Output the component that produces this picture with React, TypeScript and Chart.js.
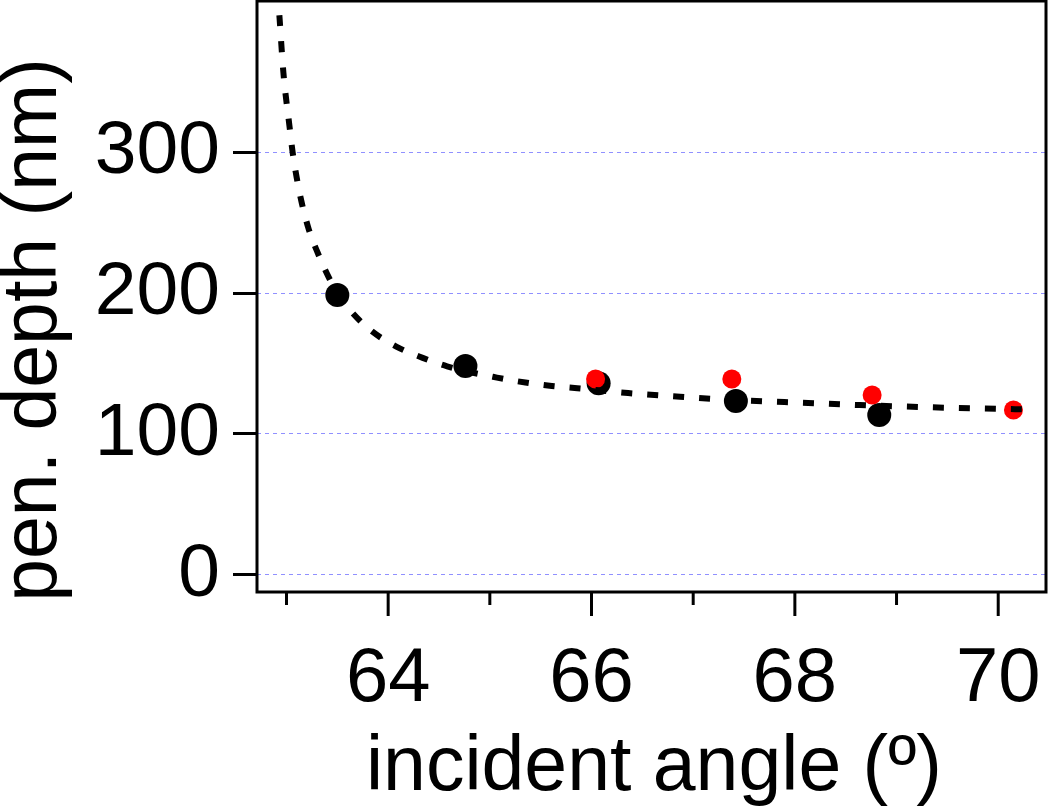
import React, { useEffect, useRef } from "react";
import { Chart, registerables } from "chart.js";

Chart.register(...registerables);

// Fitted curve
const CURVE_X = [62.93, 62.97, 63.03, 63.06, 63.1, 63.15, 63.22, 63.31, 63.41, 63.5, 63.6, 63.82, 64.08, 64.34, 64.58, 65.07, 65.35, 65.61, 65.86, 66.36, 66.87, 67.42, 68.13, 68.64, 69.41, 70.17, 70.36];
const CURVE_Y = [397, 356, 318, 300, 282, 264, 245, 228, 212, 200, 190, 174, 162, 154, 148, 140, 136.5, 134, 132.5, 129, 126.5, 124, 122, 120.5, 118.8, 117.6, 117.4];

// Black measured points
const BLACK_X = [63.5, 64.76, 66.07, 67.42, 68.83];
const BLACK_Y = [198.6, 148.2, 136, 123.4, 113.5];

// Red measured points
const RED_X = [66.04, 67.38, 68.76, 70.15];
const RED_Y = [139, 139, 127.7, 117];

const X_TICKS = [63, 64, 65, 66, 67, 68, 69, 70];
const Y_TICKS = [0, 100, 200, 300];

const X_TITLE = "incident angle (º)";
const Y_TITLE = "pen. depth (nm)";

const FONT = "'Liberation Sans', Arial, sans-serif";

const framePlugin = {
  id: "frame",
  afterDraw(chart: any) {
    const { ctx, chartArea } = chart;
    const xs = chart.scales.x;
    ctx.save();
    ctx.strokeStyle = "#000";
    ctx.lineWidth = 3;
    X_TICKS.forEach((v) => {
      const px = xs.getPixelForValue(v);
      const len = v % 2 === 0 ? 24 : 13;
      ctx.beginPath();
      ctx.moveTo(px, chartArea.bottom);
      ctx.lineTo(px, chartArea.bottom + len);
      ctx.stroke();
    });
    ctx.lineWidth = 3;
    ctx.strokeRect(chartArea.left, chartArea.top, chartArea.right - chartArea.left, chartArea.bottom - chartArea.top);
    ctx.fillStyle = "#000";
    ctx.font = `77px ${FONT}`;
    ctx.textAlign = "center";
    ctx.textBaseline = "alphabetic";
    ctx.fillText(X_TITLE, 654, 790);
    ctx.translate(56, 330);
    ctx.rotate(-Math.PI / 2);
    ctx.fillText(Y_TITLE, 0, 0);
    ctx.restore();
  },
};

export default function App() {
  const ref = useRef<HTMLCanvasElement>(null);
  useEffect(() => {
    document.body.style.margin = "0";
    const canvas = ref.current!;
    const chart = new Chart(canvas, {
      type: "scatter",
      data: {
        datasets: [
          {
            label: "fit",
            data: CURVE_X.map((x, i) => ({ x, y: CURVE_Y[i] })),
            showLine: true,
            borderColor: "#000",
            borderWidth: 6,
            borderDash: [11, 15],
            borderCapStyle: "butt",
            pointRadius: 0,
            cubicInterpolationMode: "monotone",
            fill: false,
          },
          {
            label: "red",
            data: RED_X.map((x, i) => ({ x, y: RED_Y[i] })),
            backgroundColor: "#ff0000",
            borderWidth: 0,
            pointRadius: 9.5,
          },
          {
            label: "black",
            data: BLACK_X.map((x, i) => ({ x, y: BLACK_Y[i] })),
            backgroundColor: "#000",
            borderWidth: 0,
            pointRadius: 12,
          },
        ],
      },
      options: {
        animation: false,
        responsive: false,
        devicePixelRatio: 1,
        layout: { autoPadding: false, padding: { top: 1, right: 4, left: 0, bottom: 0 } },
        plugins: { legend: { display: false }, tooltip: { enabled: false } },
        scales: {
          x: {
            type: "linear",
            min: 62.71,
            max: 70.47,
            afterBuildTicks: (s: any) => {
              s.ticks = X_TICKS.map((v) => ({ value: v }));
            },
            afterFit: (s: any) => {
              s.height = 215;
              s.paddingLeft = 0;
              s.paddingRight = 0;
              s.paddingTop = 0;
              s.paddingBottom = 0;
            },
            grid: { display: false },
            border: { display: false },
            ticks: {
              autoSkip: false,
              maxRotation: 0,
              padding: 34,
              color: "#000",
              font: { family: FONT, size: 76 },
              callback: (v: any) => (Number(v) % 2 === 0 ? String(v) : ""),
            },
          },
          y: {
            type: "linear",
            min: -12.06,
            max: 407.1,
            afterBuildTicks: (s: any) => {
              s.ticks = Y_TICKS.map((v) => ({ value: v }));
            },
            afterFit: (s: any) => {
              s.width = 257;
              s.paddingLeft = 0;
              s.paddingRight = 0;
              s.paddingTop = 0;
              s.paddingBottom = 0;
            },
            grid: {
              color: "#9090ff",
              lineWidth: 1,
              drawTicks: true,
              tickLength: 24,
              tickWidth: 3,
              tickColor: "#000",
            },
            border: { display: false, dash: [4, 4] },
            ticks: {
              padding: 13,
              color: "#000",
              font: { family: FONT, size: 75 },
              callback: (v: any) => String(v),
            },
          },
        },
      },
      plugins: [framePlugin],
    });
    return () => chart.destroy();
  }, []);
  return <canvas ref={ref} width={1050} height={807} style={{ display: "block" }} />;
}
